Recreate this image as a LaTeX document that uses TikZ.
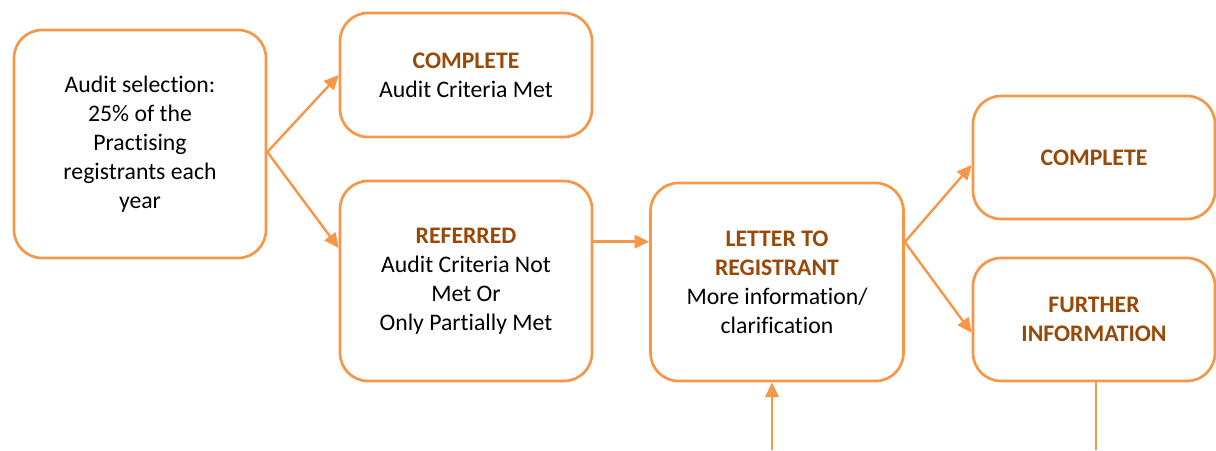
\documentclass[tikz,border=0pt]{standalone}
\usepackage{fontspec}
\setmainfont[RawFeature={-liga;-clig;-calt}]{Carlito}
\usetikzlibrary{positioning,arrows.meta}
\definecolor{boxorange}{HTML}{F79646}
\definecolor{headbrown}{HTML}{984807}
\newcommand{\boxhead}[1]{\textcolor{headbrown}{\textbf{#1}}}

\begin{document}
\begin{tikzpicture}[x=0.75pt,y=-0.75pt,
                    main box/.style={draw=boxorange,line width=2pt,rounded corners=21pt,fill=white,
                                     align=center,inner sep=0pt,font=\fontsize{17.8}{21.75}\selectfont},
                    flow/.style={draw=boxorange,line width=1.8pt,-{Triangle[length=11pt,width=10pt]}},
                    plain flow/.style={draw=boxorange,line width=1.8pt}
                   ]
  \useasboundingbox (0,0) rectangle (1216,450);

  \node[main box,minimum width=189pt,minimum height=171pt] (1) at (140,144)
       {Audit selection:\\25\% of the\\Practising\\registrants each\\year};
  \node[main box,minimum width=189pt,minimum height=93pt] (2) at (466,75)
       {\boxhead{COMPLETE}\\Audit Criteria Met};
  \node[main box,minimum width=189pt,minimum height=150pt] (3) at (466,281)
       {\boxhead{REFERRED}\\Audit Criteria Not\\Met Or\\Only Partially Met};
  \node[main box,minimum width=189.75pt,minimum height=148.5pt] (4) at (777,282)
       {\boxhead{LETTER TO}\\\boxhead{REGISTRANT}\\More information/\\clarification};
  \node[main box,minimum width=181.5pt,minimum height=92.25pt] (5) at (1094,157.5)
       {\boxhead{COMPLETE}};
  \node[main box,minimum width=181.5pt,minimum height=92.25pt] (6) at (1094,319.5)
       {\boxhead{FURTHER}\\\boxhead{INFORMATION}};

  \coordinate (in) at (772,450);   % loose ends at the bottom edge
  \coordinate (out) at (1096,450);

  \path%
    ([yshift=-6pt]1.east) edge[flow] (2.west)
    ([yshift=-6pt]1.east) edge[flow] ([yshift=24.75pt]3.west)
    ([yshift=29.5pt]3.east) edge[flow] ([yshift=29.5pt]3.east -| 4.west)
    ([yshift=30pt]4.east) edge[flow] ([yshift=-5.6pt]5.west)
    ([yshift=30pt]4.east) edge[flow] ([yshift=-10pt]6.west)
    (in) edge[flow] (in |- 4.south)
    (6.south -| out) edge[plain flow] (out);
\end{tikzpicture}
\end{document}
